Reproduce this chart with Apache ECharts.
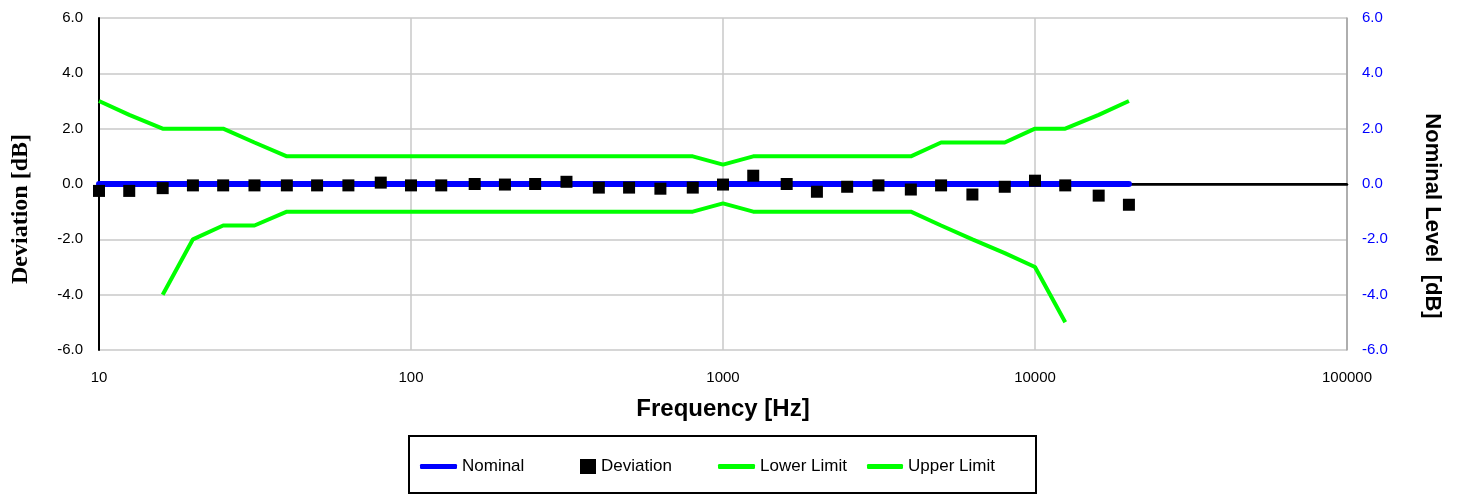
<!DOCTYPE html>
<html>
<head>
<meta charset="utf-8">
<title>Deviation vs Frequency</title>
<script src="https://cdn.jsdelivr.net/npm/echarts@6/dist/echarts.min.js"></script>
<style>
	html, body { margin: 0; padding: 0; background: #fff; }
	#chart { width: 1457px; height: 495px; }
</style>
</head>
<body>
<div id="chart"></div>
<script>
// third-octave frequencies [Hz]
const freqs = [10, 12.5, 16, 20, 25, 31.5, 40, 50, 63, 80, 100, 125, 160, 200, 250, 315, 400, 500, 630, 800,
	1000, 1250, 1600, 2000, 2500, 3150, 4000, 5000, 6300, 8000, 10000, 12500, 16000, 20000];
const nominal = freqs.map(() => 0);
const deviation = [-0.25, -0.25, -0.15, -0.05, -0.05, -0.05, -0.05, -0.05, -0.05, 0.05, -0.05, -0.05, 0.0, -0.02, 0.0, 0.08, -0.13, -0.13, -0.17, -0.13,
	-0.02, 0.3, 0.0, -0.28, -0.1, -0.05, -0.2, -0.05, -0.38, -0.1, 0.12, -0.05, -0.42, -0.75];
const upperLimit = [3, 2.5, 2, 2, 2, 1.5, 1, 1, 1, 1, 1, 1, 1, 1, 1, 1, 1, 1, 1, 1,
	0.7, 1, 1, 1, 1, 1, 1, 1.5, 1.5, 1.5, 2, 2, 2.5, 3];
// lower limit starts at 16 Hz and ends at 12.5 kHz
const lowerLimit = [null, null, -4, -2, -1.5, -1.5, -1, -1, -1, -1, -1, -1, -1, -1, -1, -1, -1, -1, -1, -1,
	-0.7, -1, -1, -1, -1, -1, -1, -1.5, -2, -2.5, -3, -5, null, null];
const yTicks = { min: -6, max: 6, interval: 2 };

const font = "'Liberation Sans', Arial, sans-serif";
const pairs = (arr) => freqs.map((f, i) => [f, arr[i]]).filter((p) => p[1] !== null);

const myChart = echarts.init(document.getElementById('chart'));
const legendBase = {
	padding: 0,
	textStyle: { fontFamily: font, fontSize: 17, color: '#000' },
	selectedMode: false,
};
const lineLegend = { ...legendBase, top: 458, itemHeight: 5, itemWidth: 37 };
const option = {
	animation: false,
	grid: { left: 99, right: 110, top: 18, bottom: 145 },
	xAxis: {
		type: 'log',
		logBase: 10,
		min: 10,
		max: 100000,
		name: 'Frequency [Hz]',
		nameLocation: 'middle',
		nameGap: 47,
		nameTextStyle: { fontFamily: font, fontSize: 24, fontWeight: 'bold', color: '#000' },
		axisLine: { lineStyle: { color: '#000', width: 2.5 } },
		axisTick: { show: false },
		minorTick: { show: false },
		axisLabel: { fontFamily: font, fontSize: 15, color: '#000', margin: 20, formatter: (v) => String(Math.round(v)) },
		splitLine: { show: true, lineStyle: { color: '#c8c8c8', width: 1.5 } },
	},
	yAxis: [
		{
			type: 'value',
			...yTicks,
			position: 'left',
			axisLine: { show: true, onZero: false, lineStyle: { color: '#000', width: 2 } },
			axisTick: { show: false },
			axisLabel: { fontFamily: font, fontSize: 15, color: '#000', margin: 16, formatter: (v) => v.toFixed(1) },
			splitLine: { show: true, lineStyle: { color: '#c8c8c8', width: 1.5 } },
		},
		{
			type: 'value',
			...yTicks,
			position: 'right',
			axisLine: { show: true, onZero: false, lineStyle: { color: '#a0a0a0', width: 1.5 } },
			axisTick: { show: false },
			axisLabel: { fontFamily: font, fontSize: 15, color: '#0000ff', margin: 15, formatter: (v) => v.toFixed(1) },
			splitLine: { show: false },
		},
	],
	legend: [
		{ ...lineLegend, left: 420, data: [{ name: 'Nominal', icon: 'roundRect' }] },
		{ ...legendBase, top: 458, left: 580, itemWidth: 16, itemHeight: 15, data: [{ name: 'Deviation', icon: 'rect' }] },
		{ ...lineLegend, left: 718, data: [{ name: 'Lower Limit', icon: 'roundRect' }] },
		{ ...lineLegend, left: 867, itemWidth: 36, data: [{ name: 'Upper Limit', icon: 'roundRect' }] },
	],
	graphic: [
		{
			type: 'rect',
			shape: { x: 409, y: 436, width: 627, height: 57 },
			style: { fill: 'none', stroke: '#000', lineWidth: 2 },
			silent: true,
		},
		{
			type: 'text',
			x: 21,
			y: 209,
			rotation: Math.PI / 2,
			silent: true,
			style: {
				text: 'Deviation [dB]',
				font: "bold 24px 'Liberation Serif', 'Times New Roman', serif",
				fill: '#000',
				align: 'center',
				verticalAlign: 'middle',
			},
		},
		{
			type: 'text',
			x: 1432,
			y: 216,
			rotation: -Math.PI / 2,
			silent: true,
			style: {
				text: 'Nominal Level  [dB]',
				font: "bold 22px 'Liberation Sans', Arial, sans-serif",
				fill: '#000',
				align: 'center',
				verticalAlign: 'middle',
			},
		},
	],
	series: [
		{
			name: 'Lower Limit',
			type: 'line',
			yAxisIndex: 0,
			symbol: 'none',
			z: 2,
			lineStyle: { color: '#00ff00', width: 4 },
			itemStyle: { color: '#00ff00' },
			data: pairs(lowerLimit),
			markLine: {
				silent: true,
				symbol: 'none',
				label: { show: false },
				lineStyle: { color: '#000', width: 2, type: 'solid' },
				data: [{ yAxis: 0 }],
			},
		},
		{
			name: 'Upper Limit',
			type: 'line',
			yAxisIndex: 0,
			symbol: 'none',
			z: 2,
			lineStyle: { color: '#00ff00', width: 4 },
			itemStyle: { color: '#00ff00' },
			data: pairs(upperLimit),
		},
		{
			name: 'Nominal',
			type: 'line',
			yAxisIndex: 1,
			symbol: 'none',
			z: 5,
			lineStyle: { color: '#0000ff', width: 6, cap: 'round' },
			itemStyle: { color: '#0000ff' },
			data: pairs(nominal),
		},
		{
			name: 'Deviation',
			type: 'scatter',
			yAxisIndex: 0,
			symbol: 'rect',
			symbolSize: 12,
			z: 6,
			itemStyle: { color: '#000', opacity: 1 },
			data: pairs(deviation),
		},
	],
};
myChart.setOption(option);
</script>
</body>
</html>
